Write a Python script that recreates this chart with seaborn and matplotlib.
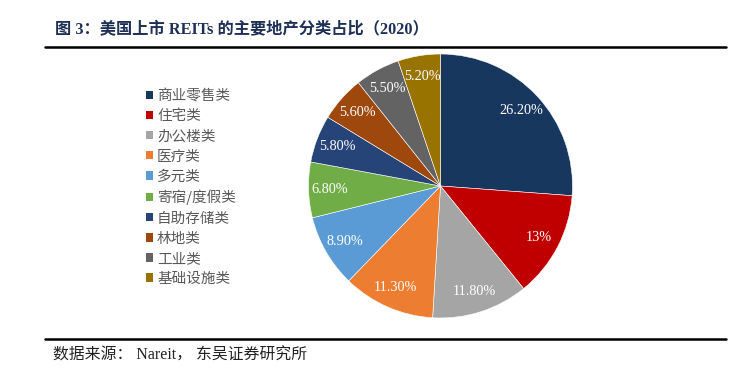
import matplotlib
matplotlib.use("Agg")
import matplotlib.pyplot as plt
from matplotlib.patches import Patch
from matplotlib.lines import Line2D
import numpy as np
import seaborn as sns

categories = ["商业零售类", "住宅类", "办公楼类", "医疗类", "多元类",
              "寄宿/度假类", "自助存储类", "林地类", "工业类", "基础设施类"]
values = [26.2, 13.0, 11.8, 11.3, 8.9, 6.8, 5.8, 5.6, 5.5, 5.2]
value_labels = ["26.20%", "13%", "11.80%", "11.30%", "8.90%",
                "6.80%", "5.80%", "5.60%", "5.50%", "5.20%"]
colors = ["#17375E", "#C00000", "#A5A5A5", "#ED7D31", "#5B9BD5",
          "#70AD47", "#264478", "#9E480E", "#636363", "#997300"]
title = "图 3：美国上市 REITs 的主要地产分类占比（2020）"
source = "数据来源： Nareit， 东吴证券研究所"

sns.set_theme(style="white")
plt.rcParams['font.family'] = ['Noto Sans CJK SC', 'DejaVu Sans']

W, H = 737, 387
fig = plt.figure(figsize=(W / 100, H / 100), dpi=100)
fig.patch.set_facecolor("white")

cx, cy, r = 440.5, 186, 132
ax = fig.add_axes([(cx - r) / W, (H - cy - r) / H, 2 * r / W, 2 * r / H])
wedges, _ = ax.pie(values, colors=colors, startangle=90, counterclock=False,
                   radius=1.0, wedgeprops=dict(edgecolor="white", linewidth=0.4))
for w, lab in zip(wedges, value_labels):
    ang = np.deg2rad((w.theta1 + w.theta2) / 2)
    d = 0.84
    ax.text(d * np.cos(ang), d * np.sin(ang), lab, ha="center", va="center",
            color="white", fontsize=10.3, family=["Liberation Serif"])
ax.set_xlim(-1, 1)
ax.set_ylim(-1, 1)
ax.set_aspect("equal")
ax.axis("off")

handles = [Patch(facecolor=c, edgecolor="none") for c in colors]
leg = fig.legend(handles, categories, loc="upper left",
                 bbox_to_anchor=(133 / W, (H - 76) / H), frameon=False,
                 handlelength=0.5, handleheight=0.5, handletextpad=0.25,
                 labelspacing=0.42, fontsize=10.5, labelcolor="#595959")

# title and lines
fig.text(55 / W, 1 - 30 / H, title, ha="left", va="center", fontsize=11.7,
         fontweight="bold", color="#1F3057",
         family=["Liberation Serif", "Noto Sans CJK SC"])
fig.add_artist(Line2D([45 / W, 726 / W], [1 - 46.5 / H, 1 - 46.5 / H],
                      color="black", linewidth=1.8))
fig.add_artist(Line2D([45 / W, 726 / W], [1 - 339 / H, 1 - 339 / H],
                      color="black", linewidth=1.8))
fig.text(53 / W, 1 - 356 / H, source, ha="left", va="center", fontsize=11.4,
         color="#222222", family=["Liberation Serif", "Noto Sans CJK SC"])

fig.savefig("out.png", dpi=100, facecolor="white")
